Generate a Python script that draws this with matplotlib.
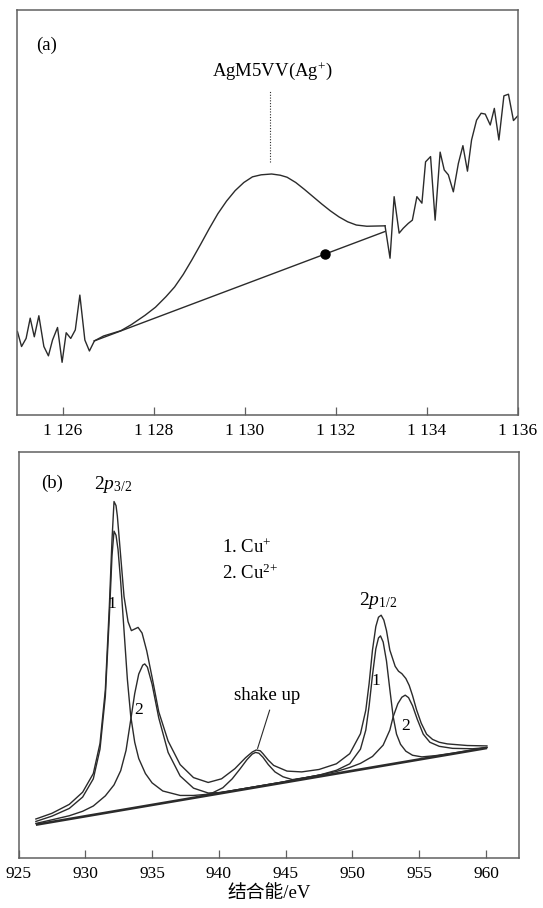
import matplotlib.pyplot as plt

plt.rcParams['font.family'] = ['Liberation Serif', 'Noto Sans CJK SC']
plt.rcParams['mathtext.fontset'] = 'custom'
plt.rcParams['mathtext.rm'] = 'Liberation Serif'
plt.rcParams['mathtext.it'] = 'Liberation Serif:italic'

# === Panel (a): AgM5VV Auger region ===
a_noise_left_x = [1125.01, 1125.10, 1125.20, 1125.29, 1125.38, 1125.48, 1125.59, 1125.69, 1125.78,
                  1125.89, 1125.99, 1126.08, 1126.18, 1126.28, 1126.38, 1126.49, 1126.59, 1126.70]
a_noise_left_y = [20.6, 16.9, 18.9, 23.9, 19.3, 24.5, 16.9, 14.6, 18.5,
                  21.6, 13.0, 20.3, 18.9, 21.0, 29.6, 18.5, 15.8, 18.3]

a_peak_x = [1126.70, 1126.90, 1127.28, 1127.51, 1127.81, 1128.04, 1128.27, 1128.46, 1128.65, 1128.84,
            1129.03, 1129.22, 1129.41, 1129.60, 1129.79, 1129.98, 1130.17, 1130.36, 1130.59, 1130.78,
            1130.93, 1131.12, 1131.31, 1131.50, 1131.69, 1131.88, 1132.07, 1132.26, 1132.45, 1132.68, 1133.08]
a_peak_y = [18.3, 19.5, 20.8, 22.3, 24.6, 26.6, 29.2, 31.6, 34.7, 38.3,
            42.1, 46.0, 49.7, 52.8, 55.4, 57.4, 58.8, 59.3, 59.5, 59.2,
            58.7, 57.4, 55.7, 53.9, 52.1, 50.4, 48.9, 47.7, 46.9, 46.6, 46.7]

a_noise_right_x = [1133.08, 1133.19, 1133.28, 1133.39, 1133.48, 1133.59, 1133.68, 1133.78, 1133.89, 1133.97,
                   1134.08, 1134.18, 1134.29, 1134.38, 1134.47, 1134.58, 1134.69, 1134.79, 1134.89, 1134.98,
                   1135.09, 1135.19, 1135.28, 1135.39, 1135.48, 1135.58, 1135.69, 1135.79, 1135.90, 1135.99]
a_noise_right_y = [46.7, 38.7, 53.9, 44.9, 46.1, 47.3, 48.1, 53.9, 52.3, 62.5,
                   63.8, 48.1, 64.9, 60.5, 59.3, 55.1, 62.1, 66.5, 60.2, 67.9,
                   72.8, 74.5, 74.3, 71.6, 75.7, 67.9, 78.8, 79.2, 72.7, 73.8]

a_base_x = [1126.70, 1133.08]
a_base_y = [18.3, 45.3]
a_dot = (1131.77, 39.8)
a_ticks = [1126, 1128, 1130, 1132, 1134, 1136]
a_ticklabels = ['1 126', '1 128', '1 130', '1 132', '1 134', '1 136']

# === Panel (b): Cu 2p ===
b_base_x = [926.3, 960.07]
b_base_y = [8.2, 27.1]

b_env_x = [926.3, 927.5, 928.8, 929.8, 930.6, 931.1, 931.5, 931.8, 932.0, 932.15, 932.3, 932.4, 932.65,
           932.9, 933.2, 933.45, 933.7, 933.95, 934.25, 934.6, 935.0, 935.5, 936.2, 937.1, 938.1, 939.2,
           940.2, 941.2, 942.0, 942.5, 942.8, 943.1, 943.3, 943.7, 944.1, 945.1, 946.2, 947.5, 948.8,
           949.8, 950.6, 951.0, 951.25, 951.5, 951.75, 951.95, 952.15, 952.35, 952.55, 952.8, 953.2,
           953.45, 953.7, 954.0, 954.25, 954.5, 954.8, 955.15, 955.55, 956.0, 956.5, 957.1, 958.6, 960.07]
b_env_y = [9.6, 11.0, 13.2, 16.2, 20.8, 28.2, 41.4, 62.0, 78.4, 87.8, 86.8, 84.2, 74.3,
           64.4, 58.2, 56.0, 56.4, 56.8, 55.4, 51.0, 44.5, 36.0, 28.8, 23.0, 19.8, 18.6,
           19.5, 22.0, 24.7, 26.1, 26.6, 26.4, 25.7, 24.1, 22.8, 21.4, 21.2, 21.8, 23.2,
           25.7, 30.6, 36.4, 43.0, 51.2, 57.0, 59.3, 59.8, 58.6, 56.0, 51.2, 47.2,
           46.0, 45.4, 44.2, 42.5, 40.0, 36.5, 33.2, 30.5, 29.2, 28.5, 28.1, 27.7, 27.6]

b_cu1_x = [926.3, 927.5, 928.8, 929.8, 930.6, 931.1, 931.5, 931.8, 932.0, 932.15, 932.3, 932.45, 932.65,
           932.9, 933.15, 933.4, 933.7, 934.0, 934.5, 935.0, 935.8, 937.1, 938.1, 939.2, 940.2, 941.2,
           942.8, 944.6, 946.2, 947.5, 948.8, 949.8, 950.6, 951.0, 951.25, 951.5, 951.75, 951.95, 952.1,
           952.3, 952.55, 952.8, 953.05, 953.3, 953.6, 954.0, 954.5, 955.2, 956.2, 957.5, 959.0, 960.07]
b_cu1_y = [9.0, 10.3, 12.2, 15.0, 19.5, 26.8, 39.8, 59.5, 74.5, 80.5, 79.5, 76.0, 68.0,
           56.0, 44.0, 35.0, 28.5, 24.5, 20.8, 18.5, 16.5, 15.4, 15.4, 15.7, 16.2, 16.7,
           17.6, 18.6, 19.6, 20.4, 21.6, 23.2, 26.8, 31.5, 37.5, 45.0, 51.5, 54.2, 54.7,
           53.2, 48.5, 41.5, 34.8, 30.5, 28.0, 26.3, 25.3, 24.9, 25.2, 25.8, 26.6, 27.2]

b_cu2_x = [926.3, 927.5, 928.8, 929.8, 930.6, 931.5, 932.15, 932.65, 933.05, 933.4, 933.7, 934.0, 934.3,
           934.45, 934.65, 935.0, 935.5, 936.2, 937.1, 938.1, 939.2, 940.2, 941.2, 942.8, 944.6, 946.2,
           947.5, 948.8, 949.8, 950.6, 951.5, 952.3, 952.8, 953.05, 953.4, 953.7, 953.95, 954.2, 954.5,
           954.85, 955.3, 955.8, 956.5, 957.5, 959.0, 960.07]
b_cu2_y = [8.5, 9.4, 10.4, 11.5, 12.8, 15.3, 18.0, 21.5, 26.5, 34.0, 40.5, 45.3, 47.5,
           47.8, 47.0, 42.8, 34.5, 26.0, 20.2, 17.2, 16.0, 16.1, 16.7, 17.6, 18.6, 19.6,
           20.4, 21.3, 22.3, 23.3, 25.0, 27.8, 31.5, 34.8, 38.0, 39.6, 40.1, 39.5, 37.5,
           34.2, 30.5, 28.5, 27.5, 27.0, 26.9, 27.2]

b_shake_x = [938.6, 939.5, 940.3, 941.0, 941.6, 942.1, 942.5, 942.75, 943.0, 943.3, 943.7, 944.2,
             944.8, 945.5, 946.5, 947.5]
b_shake_y = [15.2, 16.0, 17.3, 19.5, 22.0, 24.2, 25.6, 26.0, 25.8, 24.8, 23.0, 21.2,
             20.0, 19.3, 19.8, 20.4]

b_ticks = [925, 930, 935, 940, 945, 950, 955, 960]

line_c = '#2b2b2b'
spine_c = '#606060'
lw = 1.0
fs = 13.5

fig = plt.figure(figsize=(5.43, 9.08), dpi=100)
ax1 = fig.add_axes([0.0313, 0.5430, 0.9227, 0.4460])
ax2 = fig.add_axes([0.0341, 0.0551, 0.9217, 0.4471])

for ax in (ax1, ax2):
    for s in ax.spines.values():
        s.set_color(spine_c)
        s.set_linewidth(1.1)
    ax.set_yticks([])
    ax.tick_params(axis='x', direction='in', length=5.8, width=0.9, color=spine_c,
                   labelsize=12.5, pad=6)
    ax.set_ylim(0, 100)

# --- (a) ---
ax1.plot(a_noise_left_x, a_noise_left_y, color=line_c, lw=lw)
ax1.plot(a_peak_x, a_peak_y, color=line_c, lw=lw)
ax1.plot(a_noise_right_x, a_noise_right_y, color=line_c, lw=lw)
ax1.plot(a_base_x, a_base_y, color=line_c, lw=lw)
ax1.plot([a_dot[0]], [a_dot[1]], 'o', color='black', ms=6.5)
ax1.plot([1130.55, 1130.55], [62.4, 80.1], color=line_c, lw=0.8, linestyle=(0, (1, 1.5)))
ax1.text(1130.6, 85.0, r'AgM5VV(Ag$^{+}$)', ha='center', va='center', fontsize=fs)
ax1.text(1125.66, 91.3, '(a)', ha='center', va='center', fontsize=fs)
ax1.set_xlim(1125, 1136)
ax1.set_xticks(a_ticks)
ax1.set_xticklabels(a_ticklabels)

# --- (b) ---
ax2.plot(b_base_x, b_base_y, color=line_c, lw=1.9, solid_capstyle='butt')
ax2.plot(b_cu2_x, b_cu2_y, color=line_c, lw=lw)
ax2.plot(b_cu1_x, b_cu1_y, color=line_c, lw=lw)
ax2.plot(b_shake_x, b_shake_y, color=line_c, lw=lw)
ax2.plot(b_env_x, b_env_y, color=line_c, lw=lw)
ax2.set_xlim(925, 962.47)
ax2.set_xticks(b_ticks)
ax2.set_xlabel('结合能/eV', fontsize=13.5, labelpad=2)

ax2.text(927.5, 92.3, '(b)', ha='center', va='center', fontsize=fs)
ax2.text(932.1, 92.0, r'2$\mathit{p}_{3/2}$', ha='center', va='center', fontsize=14)
ax2.text(951.9, 63.4, r'2$\mathit{p}_{1/2}$', ha='center', va='center', fontsize=14)
ax2.text(940.2, 76.4, r'1. Cu$^{+}$', ha='left', va='center', fontsize=fs)
ax2.text(940.2, 70.2, r'2. Cu$^{2{+}}$', ha='left', va='center', fontsize=fs)
ax2.text(931.95, 62.5, '1', ha='center', va='center', fontsize=12.5)
ax2.text(934.0, 36.5, '2', ha='center', va='center', fontsize=12.5)
ax2.text(951.75, 43.5, '1', ha='center', va='center', fontsize=12.5)
ax2.text(953.95, 32.4, '2', ha='center', va='center', fontsize=12.5)
ax2.text(943.6, 39.9, 'shake up', ha='center', va='center', fontsize=fs)
ax2.plot([943.8, 942.9], [36.4, 27.0], color=line_c, lw=0.8)

fig.savefig('out.png', dpi=100)
